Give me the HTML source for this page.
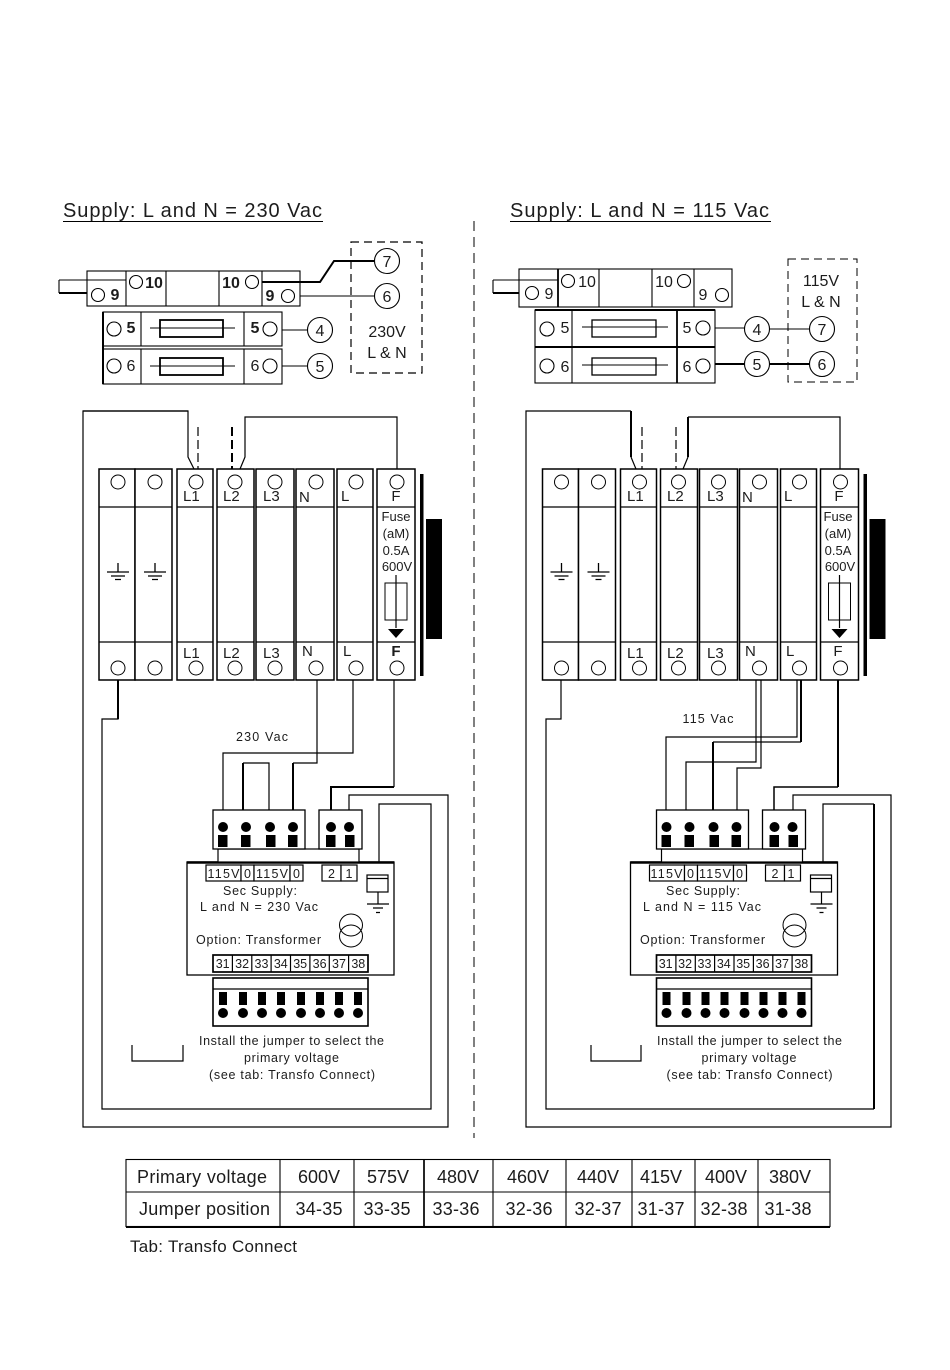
<!DOCTYPE html>
<html><head><meta charset="utf-8"><title>Supply wiring</title>
<style>
html,body{margin:0;padding:0;background:#fff}
svg{display:block}
text{font-family:"Liberation Sans",Arial,sans-serif;fill:#1c1c1c;stroke:none}
.a{text-anchor:middle}
.t{font-size:20px}
.n{font-size:16px}
.b{font-weight:bold}
.m{font-size:15px}
.s{font-size:12.5px}
.c{font-size:13px}
.k{font-size:18px}
</style></head><body>
<svg width="950" height="1370" viewBox="0 0 950 1370" xmlns="http://www.w3.org/2000/svg">
<defs>
<g id="gnd"><path d="M0 -9V0M-11 0H11M-7 4H7M-3 7.500H3" fill="none" stroke="#000" stroke-width="1.300"/></g>
<g id="mods" fill="#fff" stroke="#000" stroke-width="1.500">
<rect x="99" y="469" width="36" height="211"/><rect x="135" y="469" width="37" height="211"/>
<rect x="177" y="469" width="36" height="211"/><rect x="217" y="469" width="37" height="211"/>
<rect x="256" y="469" width="38" height="211"/><rect x="296" y="469" width="38" height="211"/>
<rect x="337" y="469" width="36" height="211"/><rect x="377" y="469" width="38" height="211"/>
<path d="M99 507H172M177 507H213M217 507H254M256 507H294M296 507H334M337 507H373M377 507H415M99 642H172M177 642H213M217 642H254M256 642H294M296 642H334M337 642H373M377 642H415" fill="none" stroke-width="1.200"/>
<g fill="none" stroke-width="1">
<circle cx="118" cy="482" r="7"/><circle cx="155" cy="482" r="7"/><circle cx="196" cy="482" r="7"/><circle cx="235" cy="482" r="7"/><circle cx="275" cy="482" r="7"/><circle cx="316" cy="482" r="7"/><circle cx="356" cy="482" r="7"/><circle cx="397" cy="482" r="7"/>
<circle cx="118" cy="668" r="7"/><circle cx="155" cy="668" r="7"/><circle cx="196" cy="668" r="7"/><circle cx="235" cy="668" r="7"/><circle cx="275" cy="668" r="7"/><circle cx="316" cy="668" r="7"/><circle cx="356" cy="668" r="7"/><circle cx="397" cy="668" r="7"/>
</g>
<rect x="385" y="583" width="22" height="37" fill="#fff" stroke-width="1"/>
<path d="M396 575V628" fill="none" stroke-width="1.200"/>
<path d="M388 629H404L396 638Z" fill="#000" stroke="none"/>
<rect x="420" y="474" width="3.500" height="202" fill="#000" stroke="none"/>
<rect x="426" y="519" width="16" height="120" fill="#000" stroke="none"/>
<use href="#gnd" x="118" y="572"/><use href="#gnd" x="155" y="572"/>
</g>
<g id="blocks" fill="#000">
<rect x="187" y="862" width="207" height="113" fill="#fff" stroke="#000" stroke-width="1.300"/>
<path d="M187 862.500H394" stroke="#000" stroke-width="2.500"/>
<rect x="218" y="849" width="141" height="13" fill="#fff" stroke="#000" stroke-width="1.200"/>
<rect x="213" y="810" width="92" height="39" fill="#fff" stroke="#000" stroke-width="1.300"/>
<rect x="319" y="810" width="43" height="39" fill="#fff" stroke="#000" stroke-width="1.300"/>
<g stroke="none">
<circle cx="223" cy="827" r="5"/><circle cx="246" cy="827" r="5"/><circle cx="270" cy="827" r="5"/><circle cx="293" cy="827" r="5"/><circle cx="331" cy="827" r="5"/><circle cx="349" cy="827" r="5"/>
<rect x="218" y="835" width="9.500" height="12"/><rect x="241" y="835" width="9.500" height="12"/><rect x="266" y="835" width="9.500" height="12"/><rect x="288" y="835" width="9.500" height="12"/><rect x="326" y="835" width="9.500" height="12"/><rect x="345" y="835" width="9.500" height="12"/>
</g>
<g fill="#fff" stroke="#000" stroke-width="1.200">
<rect x="206" y="865" width="35" height="16"/><rect x="241" y="865" width="13" height="16"/><rect x="254" y="865" width="36" height="16"/><rect x="290" y="865" width="13" height="16"/>
<rect x="322" y="865" width="19" height="16"/><rect x="341" y="865" width="16" height="16"/>
<rect x="367" y="875" width="21" height="17"/><path d="M367 878.500H388" fill="none"/>
<path d="M378 892V904" fill="none"/>
<rect x="213" y="955" width="155" height="17" stroke-width="1.700"/>
<path d="M232.400 955V972M251.800 955V972M271.100 955V972M290.500 955V972M309.900 955V972M329.300 955V972M348.600 955V972" fill="none"/>
<rect x="213" y="978" width="155" height="48" stroke-width="1.600"/><path d="M213 989H368" fill="none"/>
</g>
<path d="M367 904H389M373 908H383M376 912.500H380" stroke="#000" stroke-width="1.200" fill="none"/>
<g fill="none" stroke="#000" stroke-width="1"><ellipse cx="351" cy="925" rx="11.500" ry="11"/><ellipse cx="351" cy="936" rx="11.500" ry="11"/></g>
<g stroke="none">
<rect x="219" y="992" width="8" height="13"/><rect x="239" y="992" width="8" height="13"/><rect x="258" y="992" width="8" height="13"/><rect x="277" y="992" width="8" height="13"/><rect x="297" y="992" width="8" height="13"/><rect x="316" y="992" width="8" height="13"/><rect x="335" y="992" width="8" height="13"/><rect x="354" y="992" width="8" height="13"/>
<circle cx="223" cy="1013" r="5"/><circle cx="243" cy="1013" r="5"/><circle cx="262" cy="1013" r="5"/><circle cx="281" cy="1013" r="5"/><circle cx="301" cy="1013" r="5"/><circle cx="320" cy="1013" r="5"/><circle cx="339" cy="1013" r="5"/><circle cx="358" cy="1013" r="5"/>
</g>
</g>
</defs>

<!-- Central dashed divider -->
<path d="M474 221V1138" stroke="#000" stroke-width="1" stroke-dasharray="10 6" fill="none"/>

<!-- Titles -->
<text class="t" x="63" y="217" textLength="259" lengthAdjust="spacing">Supply: L and N = 230 Vac</text>
<path d="M63 221.500H323" stroke="#000" stroke-width="1"/>
<text class="t" x="510" y="217" textLength="259" lengthAdjust="spacing">Supply: L and N = 115 Vac</text>
<path d="M510 221.500H771" stroke="#000" stroke-width="1"/>

<!-- LEFT upper strip -->
<g fill="none" stroke="#000" stroke-width="1.100">
<rect x="87" y="271" width="213" height="35"/>
<path d="M126 271V306M166 271V306M219 271V306M262 271V306"/>
<path d="M59 280H126M59 280V293"/><path d="M59 293H87" stroke-width="2"/>
<path d="M262 282H320L334 261H375" stroke-width="2"/>
<path d="M300 296H375"/>
<rect x="103" y="312" width="179" height="34"/><rect x="103" y="349" width="179" height="35"/>
<path d="M103 312V384" stroke-width="2"/>
<path d="M141 312V346M244 312V346M141 349V384M244 349V384"/>
<rect x="160" y="320" width="63" height="17" stroke-width="1.800"/>
<rect x="160" y="358" width="63" height="17" stroke-width="1.800"/>
<path d="M150 328H235M150 366H235M282 330H308M282 366H308"/>
<rect x="351" y="242" width="71" height="131" stroke-width="1.200" stroke-dasharray="8 5"/>
<circle cx="98" cy="295" r="6.500"/><circle cx="136" cy="282" r="6.500"/><circle cx="252" cy="282" r="6.500"/><circle cx="288" cy="296" r="6.500"/>
<circle cx="114" cy="329" r="7"/><circle cx="270" cy="329" r="7"/><circle cx="114" cy="366" r="7"/><circle cx="270" cy="366" r="7"/>
<circle cx="387" cy="261" r="12.500" fill="#fff"/><circle cx="387" cy="296" r="12.500" fill="#fff"/><circle cx="320" cy="330" r="12.500" fill="#fff"/><circle cx="320" cy="366" r="12.500" fill="#fff"/>
</g>
<g>
<text class="a n b" x="115" y="300">9</text><text class="a n b" x="154" y="288">10</text><text class="a n b" x="231" y="288">10</text><text class="a n b" x="270" y="301">9</text>
<text class="a n b" x="131" y="333">5</text><text class="a n b" x="255" y="333">5</text><text class="a n" x="131" y="371">6</text><text class="a n" x="255" y="371">6</text>
<text class="a n" x="387" y="267">7</text><text class="a n" x="387" y="302">6</text><text class="a n" x="320" y="336">4</text><text class="a n" x="320" y="372">5</text>
<text class="a n" x="387" y="337">230V</text><text class="a n" x="387" y="358">L &amp; N</text>
</g>

<!-- RIGHT upper strip -->
<g fill="none" stroke="#000" stroke-width="1.100">
<rect x="519" y="269" width="213" height="38"/>
<path d="M558 269V307" stroke-width="1.800"/><path d="M599 269V307M652 269V307M694 269V307"/>
<path d="M493 280H558M493 280V293"/><path d="M493 293H519" stroke-width="2"/>
<rect x="535" y="310" width="180" height="73"/>
<path d="M535 310H715M535 347H715" stroke-width="2"/>
<path d="M572 310V383"/><path d="M677 310V383" stroke-width="1.800"/>
<rect x="592" y="320" width="64" height="17" stroke-width="1.300"/><rect x="592" y="358" width="64" height="17" stroke-width="1.300"/>
<path d="M582 327H668M582 365H668"/>
<path d="M715 328H745M770 329H810"/><path d="M715 364H745M770 364H810" stroke-width="2"/>
<rect x="788" y="259" width="69" height="123" stroke-width="1" stroke-dasharray="8 5"/>
<circle cx="532" cy="293" r="6.500"/><circle cx="568" cy="281" r="6.500"/><circle cx="684" cy="281" r="6.500"/><circle cx="722" cy="295" r="6.500"/>
<circle cx="547" cy="329" r="7"/><circle cx="703" cy="328" r="7"/><circle cx="547" cy="366" r="7"/><circle cx="703" cy="366" r="7"/>
<circle cx="757" cy="329" r="12.500" fill="#fff"/><circle cx="757" cy="364" r="12.500" fill="#fff"/><circle cx="822" cy="329" r="12.500" fill="#fff"/><circle cx="822" cy="364" r="12.500" fill="#fff"/>
</g>
<g>
<text class="a n" x="549" y="299">9</text><text class="a n" x="587" y="287">10</text><text class="a n" x="664" y="287">10</text><text class="a n" x="703" y="300">9</text>
<text class="a n" x="565" y="333">5</text><text class="a n" x="687" y="333">5</text><text class="a n" x="565" y="372">6</text><text class="a n" x="687" y="372">6</text>
<text class="a n" x="757" y="335">4</text><text class="a n" x="757" y="370">5</text><text class="a n" x="822" y="335">7</text><text class="a n" x="822" y="370">6</text>
<text class="a n" x="821" y="286">115V</text><text class="a n" x="821" y="307">L &amp; N</text>
</g>

<!-- LEFT wiring -->
<g fill="none" stroke="#000" stroke-width="1.200">
<path d="M188 411H83V1127H448V795H349V810"/>
<path d="M83 411H188V457L194 469"/>
<path d="M198 427V469" stroke-dasharray="9 4"/>
<path d="M232 427V469" stroke-width="2" stroke-dasharray="9 4"/>
<path d="M240 469L245 457V417H397V475"/>
<path d="M118 680V719H102V1109H431V804H379V872" />
<path d="M118 680V719" stroke-width="2"/>
<path d="M317 680V763H293"/><path d="M293 763V810" stroke-width="2"/>
<path d="M353 680V753H223V810"/>
<path d="M269 810V763H243"/><path d="M243 763V810" stroke-width="2"/>
<path d="M394 680V787" /><path d="M394 787H331V810" stroke-width="2"/>
<path d="M132 1045V1061H183V1045"/>
</g>
<use href="#mods"/>
<use href="#blocks"/>
<g>
<text class="m" x="183" y="501">L1</text><text class="m" x="223" y="501">L2</text><text class="m" x="263" y="501">L3</text><text class="m" x="299" y="502">N</text><text class="m" x="341" y="501">L</text><text class="a m" x="396" y="501">F</text>
<text class="m" x="183" y="658">L1</text><text class="m" x="223" y="658">L2</text><text class="m" x="263" y="658">L3</text><text class="m" x="302" y="656">N</text><text class="m" x="343" y="656">L</text><text class="a m b" x="396" y="656">F</text>
<text class="a c" x="396" y="521">Fuse</text><text class="a c" x="396" y="538">(aM)</text><text class="a c" x="396" y="555">0.5A</text><text class="a c" x="397" y="571">600V</text>
<text class="a s" x="262" y="741" textLength="52">230 Vac</text>
<text class="a s" x="223.500" y="878" textLength="32">115V</text><text class="a s" x="247.500" y="878">0</text><text class="a s" x="272" y="878" textLength="32">115V</text><text class="a s" x="296.500" y="878">0</text>
<text class="a s" x="331.500" y="878">2</text><text class="a s" x="349" y="878">1</text>
<text class="a s" x="260" y="895" textLength="74">Sec Supply:</text>
<text class="a s" x="259" y="911" textLength="118">L and N = 230 Vac</text>
<text class="s" x="196" y="944" textLength="125">Option: Transformer</text>
<text class="a s" x="222.700" y="968">31</text><text class="a s" x="242.100" y="968">32</text><text class="a s" x="261.500" y="968">33</text><text class="a s" x="280.800" y="968">34</text><text class="a s" x="300.200" y="968">35</text><text class="a s" x="319.600" y="968">36</text><text class="a s" x="339" y="968">37</text><text class="a s" x="358.300" y="968">38</text>
<text class="a s" x="291.500" y="1045" textLength="185">Install the jumper to select the</text>
<text class="a s" x="291.500" y="1062" textLength="95">primary voltage</text>
<text class="a s" x="292" y="1079" textLength="166">(see tab: Transfo Connect)</text>
</g>

<!-- RIGHT wiring -->
<g fill="none" stroke="#000" stroke-width="1.200">
<path d="M631 411H526V1127H891V795H793V810"/>
<path d="M631 411V457" stroke-width="2"/><path d="M631 457L636 469"/>
<path d="M642 427V469" stroke-dasharray="9 4"/>
<path d="M676 427V469" stroke-dasharray="9 4"/>
<path d="M683 469L688 457"/><path d="M688 457V417" stroke-width="2"/><path d="M688 417H840V475"/>
<path d="M561 680V719H546V1109H823"/><path d="M874 1109H823"/>
<path d="M874 1109V804" stroke-width="2"/><path d="M874 804H823V872"/>
<path d="M756 680V762H686V810"/>
<path d="M761 680V768H737V810"/>
<path d="M797 680V737H666V810"/>
<path d="M801 680V742" stroke-width="2"/><path d="M801 742H713"/><path d="M713 742V810" stroke-width="2"/>
<path d="M838 680V787" stroke-width="2"/><path d="M838 787H774V810" stroke-width="1.500"/>
<path d="M591 1045V1061H641V1045"/>
</g>
<g transform="translate(443.500 0)"><use href="#mods"/><use href="#blocks"/></g>
<g>
<text class="m" x="627" y="501">L1</text><text class="m" x="667" y="501">L2</text><text class="m" x="707" y="501">L3</text><text class="m" x="742" y="502">N</text><text class="m" x="784" y="501">L</text><text class="a m" x="839" y="501">F</text>
<text class="m" x="627" y="658">L1</text><text class="m" x="667" y="658">L2</text><text class="m" x="707" y="658">L3</text><text class="m" x="745" y="656">N</text><text class="m" x="786" y="656">L</text><text class="a m" x="838" y="656">F</text>
<text class="a c" x="838" y="521">Fuse</text><text class="a c" x="838" y="538">(aM)</text><text class="a c" x="838" y="555">0.5A</text><text class="a c" x="840" y="571">600V</text>
<text class="a s" x="708" y="723" textLength="51">115 Vac</text>
<text class="a s" x="666.500" y="878" textLength="32">115V</text><text class="a s" x="690.500" y="878">0</text><text class="a s" x="715" y="878" textLength="32">115V</text><text class="a s" x="739.500" y="878">0</text>
<text class="a s" x="775" y="878">2</text><text class="a s" x="791" y="878">1</text>
<text class="a s" x="703" y="895" textLength="74">Sec Supply:</text>
<text class="a s" x="702" y="911" textLength="118">L and N = 115 Vac</text>
<text class="s" x="640" y="944" textLength="125">Option: Transformer</text>
<text class="a s" x="665.700" y="968">31</text><text class="a s" x="685.100" y="968">32</text><text class="a s" x="704.500" y="968">33</text><text class="a s" x="723.800" y="968">34</text><text class="a s" x="743.200" y="968">35</text><text class="a s" x="762.600" y="968">36</text><text class="a s" x="782" y="968">37</text><text class="a s" x="801.300" y="968">38</text>
<text class="a s" x="749.500" y="1045" textLength="185">Install the jumper to select the</text>
<text class="a s" x="749" y="1062" textLength="95">primary voltage</text>
<text class="a s" x="749.500" y="1079" textLength="166">(see tab: Transfo Connect)</text>
</g>

<!-- Table -->
<g fill="none" stroke="#000" stroke-width="1.100">
<rect x="126" y="1159.500" width="704" height="67"/>
<path d="M126 1192H830M280 1160V1227M354 1160V1227M493 1160V1227M566 1160V1227M632 1160V1227M695 1160V1227M758 1160V1227"/>
<path d="M424 1160V1227" stroke-width="1.700"/><path d="M126 1227H830" stroke-width="2"/>
</g>
<g>
<text class="k" x="137" y="1183" textLength="130">Primary voltage</text>
<text class="k" x="139" y="1215" textLength="131">Jumper position</text>
<text class="a k" x="319" y="1183">600V</text><text class="a k" x="388" y="1183">575V</text><text class="a k" x="458" y="1183">480V</text><text class="a k" x="528" y="1183">460V</text><text class="a k" x="598" y="1183">440V</text><text class="a k" x="661" y="1183">415V</text><text class="a k" x="726" y="1183">400V</text><text class="a k" x="790" y="1183">380V</text>
<text class="a k" x="319" y="1215" textLength="47">34-35</text><text class="a k" x="387" y="1215" textLength="47">33-35</text><text class="a k" x="456" y="1215" textLength="47">33-36</text><text class="a k" x="529" y="1215" textLength="47">32-36</text><text class="a k" x="598" y="1215" textLength="47">32-37</text><text class="a k" x="661" y="1215" textLength="47">31-37</text><text class="a k" x="724" y="1215" textLength="47">32-38</text><text class="a k" x="788" y="1215" textLength="47">31-38</text>
<text style="font-size:17px" x="130" y="1252" textLength="167">Tab: Transfo Connect</text>
</g>
</svg>
</body></html>
